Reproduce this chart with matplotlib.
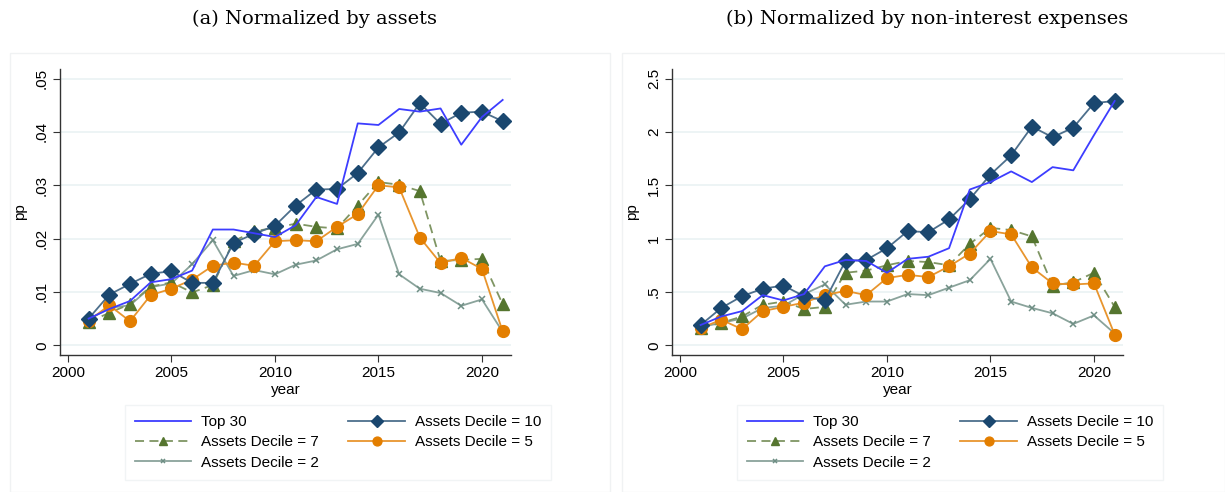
import numpy as np
import matplotlib
matplotlib.use('Agg')
import matplotlib.pyplot as plt
from matplotlib.patches import Rectangle

years = list(range(2001, 2022))

# (a) normalized by assets
top30_a = [0.0050, 0.0068, 0.0083, 0.0118, 0.0124, 0.0140, 0.0217, 0.0217, 0.0210, 0.0203, 0.0225,
           0.0278, 0.0265, 0.0416, 0.0413, 0.0443, 0.0438, 0.0444, 0.0376, 0.0428, 0.0460]
dec10_a = [0.0050, 0.0095, 0.0115, 0.0134, 0.0139, 0.0117, 0.0117, 0.0192, 0.0209, 0.0224, 0.0262,
           0.0292, 0.0293, 0.0323, 0.0371, 0.0399, 0.0454, 0.0415, 0.0436, 0.0438, 0.0420]
dec7_a = [0.0043, 0.0061, 0.0077, 0.0110, 0.0118, 0.0099, 0.0113, 0.0195, 0.0214, 0.0220, 0.0228,
          0.0222, 0.0219, 0.0262, 0.0306, 0.0301, 0.0289, 0.0158, 0.0160, 0.0162, 0.0077]
dec5_a = [0.0046, 0.0075, 0.0045, 0.0094, 0.0106, 0.0123, 0.0149, 0.0155, 0.0149, 0.0195, 0.0197,
          0.0195, 0.0222, 0.0246, 0.0300, 0.0296, 0.0202, 0.0154, 0.0164, 0.0143, 0.0026]
dec2_a = [0.0048, 0.0070, 0.0075, 0.0109, 0.0116, 0.0152, 0.0197, 0.0130, 0.0141, 0.0133, 0.0151,
          0.0159, 0.0180, 0.0190, 0.0245, 0.0133, 0.0106, 0.0098, 0.0074, 0.0086, 0.0025]

# (b) normalized by non-interest expenses
top30_b = [0.19, 0.27, 0.32, 0.47, 0.42, 0.48, 0.74, 0.80, 0.79, 0.68, 0.81,
           0.83, 0.91, 1.46, 1.53, 1.63, 1.53, 1.67, 1.64, 1.97, 2.29]
dec10_b = [0.19, 0.35, 0.46, 0.53, 0.56, 0.46, 0.42, 0.79, 0.80, 0.91, 1.07,
           1.06, 1.18, 1.37, 1.60, 1.78, 2.05, 1.95, 2.04, 2.27, 2.29]
dec7_b = [0.16, 0.21, 0.27, 0.38, 0.41, 0.34, 0.36, 0.68, 0.70, 0.75, 0.79,
          0.78, 0.75, 0.95, 1.10, 1.08, 1.02, 0.56, 0.59, 0.68, 0.36]
dec5_b = [0.16, 0.24, 0.15, 0.32, 0.36, 0.40, 0.47, 0.51, 0.47, 0.63, 0.66,
          0.64, 0.74, 0.86, 1.07, 1.04, 0.73, 0.58, 0.57, 0.58, 0.10]
dec2_b = [0.17, 0.21, 0.25, 0.35, 0.37, 0.48, 0.57, 0.38, 0.41, 0.41, 0.48,
          0.47, 0.54, 0.61, 0.81, 0.41, 0.35, 0.30, 0.20, 0.28, 0.11]

titles = ['(a) Normalized by assets', '(b) Normalized by non-interest expenses']
ytick_a = [0, 0.01, 0.02, 0.03, 0.04, 0.05]
ytick_a_lbl = ['0', '.01', '.02', '.03', '.04', '.05']
ytick_b = [0, 0.5, 1, 1.5, 2, 2.5]
ytick_b_lbl = ['0', '.5', '1', '1.5', '2', '2.5']
xticks = [2000, 2005, 2010, 2015, 2020]

blue = '#3d3dff'
navy = '#1a476f'
green = '#55752f'
orange = '#e37e00'
teal = '#6e8e84'

plt.rcParams['font.family'] = ['Liberation Sans', 'DejaVu Sans']

fig = plt.figure(figsize=(12.25, 4.92), dpi=100)

panels = [
    (0.049, (top30_a, dec10_a, dec7_a, dec5_a, dec2_a), ytick_a, ytick_a_lbl, (-0.00182, 0.0518)),
    (0.5486, (top30_b, dec10_b, dec7_b, dec5_b, dec2_b), ytick_b, ytick_b_lbl, (-0.091, 2.59)),
]

for k, (left, series, yt, ytl, ylim) in enumerate(panels):
    # faint outer frame of each graph
    x0 = 0.008 + k * 0.5
    fig.patches.append(Rectangle((x0, 0.0), 0.5 - 0.01 + (0.002 if k else 0), 0.893,
                                 transform=fig.transFigure, fill=False,
                                 edgecolor='#f0f2f3', lw=1.0))
    fig.text(0.257 + k * 0.5, 0.962, titles[k], ha='center', va='center',
             fontsize=14, family=['DejaVu Serif'])

    ax = fig.add_axes([left, 0.2785, 0.3681, 0.5813])
    t30, d10, d7, d5, d2 = series
    lt, = ax.plot(years, t30, color=blue, lw=1.3, zorder=5)
    l10, = ax.plot(years, d10, color='#4d6f8c', lw=1.3, marker='D', markersize=8,
                   markerfacecolor=navy, markeredgecolor=navy, zorder=4)
    l7, = ax.plot(years, d7, color='#7f9563', lw=1.3, ls=(0, (5, 3)), marker='^', markersize=8,
                  markerfacecolor=green, markeredgecolor=green, zorder=3)
    l5, = ax.plot(years, d5, color='#e8952e', lw=1.3, marker='o', markersize=8.5,
                  markerfacecolor=orange, markeredgecolor=orange, zorder=3)
    l2, = ax.plot(years, d2, color='#8aa39b', lw=1.3, marker='x', markersize=4,
                  markeredgecolor=teal, markeredgewidth=1.1, zorder=2)

    ax.set_xlim(1999.62, 2021.4)
    ax.set_ylim(*ylim)
    ax.set_xticks(xticks)
    ax.set_xticklabels([str(x) for x in xticks], fontsize=11)
    ax.set_yticks(yt)
    ax.set_yticklabels(ytl, fontsize=11, rotation=90, va='center')
    ax.grid(axis='y', color='#eaf2f3', lw=1.2)
    ax.set_axisbelow(True)
    for s in ['top', 'right']:
        ax.spines[s].set_visible(False)
    for s in ['left', 'bottom']:
        ax.spines[s].set_color('#333333')
        ax.spines[s].set_linewidth(1.0)
    ax.tick_params(axis='both', direction='out', length=5, color='#333333', pad=3)
    ax.set_xlabel('year', fontsize=11, labelpad=2)
    ax.set_ylabel('pp', fontsize=11, labelpad=6)

    leg = fig.legend([lt, l7, l2, l10, l5],
                     ['Top 30', 'Assets Decile = 7', 'Assets Decile = 2',
                      'Assets Decile = 10', 'Assets Decile = 5'],
                     ncol=2, loc='upper left',
                     bbox_to_anchor=((125 + k * 612) / 1225, 1 - 405 / 492),
                     borderaxespad=0, markerscale=0.75,
                     fontsize=11, frameon=True, fancybox=False,
                     edgecolor='#eef2f3', handlelength=3.7, handletextpad=0.65,
                     columnspacing=1.9, labelspacing=0.42, borderpad=0.65)
    leg.get_frame().set_linewidth(1.0)

fig.savefig('out.png', dpi=100, facecolor='white')
